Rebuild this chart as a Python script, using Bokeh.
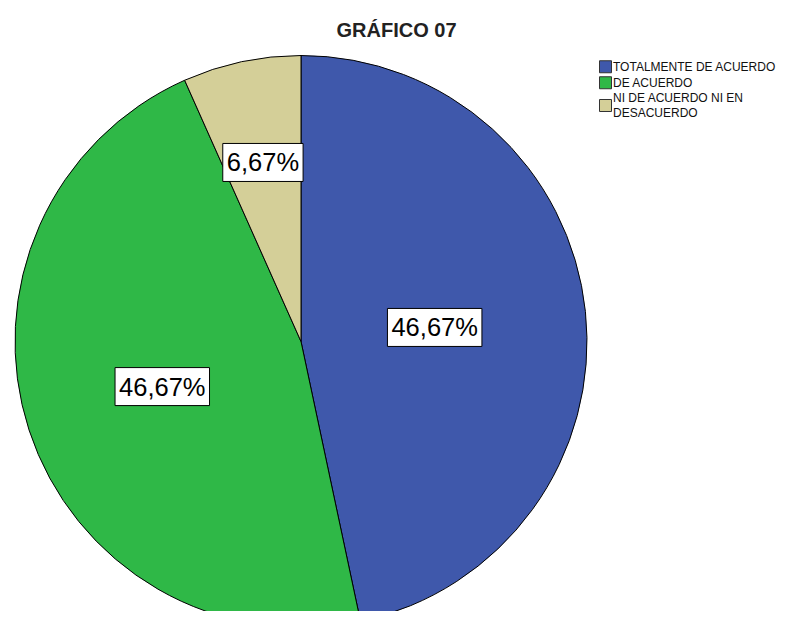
import math
from bokeh.plotting import figure
from bokeh.models import Range1d, ColumnDataSource
from bokeh.core.properties import value
from bokeh.embed import file_html
from bokeh.resources import INLINE

# ---- data ----
categories = ["TOTALMENTE DE ACUERDO", "DE ACUERDO", "NI DE ACUERDO NI EN\nDESACUERDO"]
percents = [46.67, 46.67, 6.67]
labels = ["46,67%", "46,67%", "6,67%"]
colors = ["#3F58AB", "#2FB847", "#D4CF98"]
title_text = "GRÁFICO 07"

# ---- layout (screen px of the reference picture; y data = H - screen y) ----
H = 627
FONT = "Liberation Sans"
cx, cy_s, R = 300.5, 341.0, 286.0
label_frac = [0.47, 0.51, 0.64]

def sy(y):
    return H - y

p = figure(width=780, height=611, output_backend="svg", toolbar_location=None,
           x_axis_type=None, y_axis_type=None,
           x_range=Range1d(0, 780), y_range=Range1d(sy(611), sy(0)),
           min_border=0, outline_line_color=None)
p.grid.visible = False
p.background_fill_color = "white"
p.border_fill_color = "white"

total = sum(percents)
starts, ends, lx, ly = [], [], [], []
cum = 0.0
for i, v in enumerate(percents):
    a0 = cum / total * 2 * math.pi          # compass angle, clockwise from top
    a1 = (cum + v) / total * 2 * math.pi
    cum += v
    starts.append(math.pi / 2 - a1)
    ends.append(math.pi / 2 - a0)
    mid = (a0 + a1) / 2
    r = R * label_frac[i]
    lx.append(cx + r * math.sin(mid))
    ly.append(sy(cy_s) + r * math.cos(mid))

src = ColumnDataSource(dict(start=starts, end=ends, color=colors))
p.wedge(x=cx, y=sy(cy_s), radius=R, radius_units="data",
        start_angle="start", end_angle="end", fill_color="color",
        line_color="black", line_width=1, source=src)

lab_src = ColumnDataSource(dict(x=lx, y=ly, t=labels))
p.text(x="x", y="y", text="t", source=lab_src, text_font=value(FONT),
       text_font_size="25.5px", text_align="center", text_baseline="middle",
       text_color="black", background_fill_color="white",
       border_line_color="black", border_line_width=1, padding=(4, 5))

# title
p.text(x=[396], y=[sy(29)], text=[title_text], text_font=value(FONT),
       text_font_size="20px", text_font_style="bold", text_align="center",
       text_baseline="middle", text_color="#222222")

# legend
line_h = 13.5
gap = 2.5
top = 59.5
sq_x, sq_y, tx, ty = [], [], [], []
for i, c in enumerate(categories):
    n = c.count("\n") + 1
    hgt = n * line_h
    center = top + hgt / 2
    sq_x.append(605.0)
    sq_y.append(sy(center))
    tx.append(612.5)
    ty.append(sy(center))
    top += hgt + gap

p.rect(x=sq_x, y=sq_y, width=12, height=12, fill_color=colors,
       line_color="#333333", line_width=1)
p.text(x=tx, y=ty, text=categories, text_font=value(FONT),
       text_font_size="12px", text_align="left", text_baseline="middle",
       text_color="#111111", text_line_height=1.1)

open("out.html", "w").write(file_html(p, INLINE))
